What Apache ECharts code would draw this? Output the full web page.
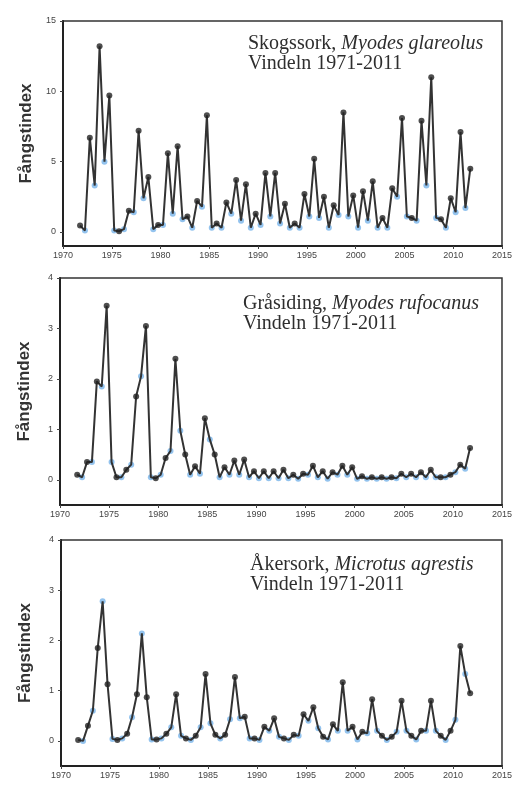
<!DOCTYPE html>
<html>
<head>
<meta charset="utf-8">
<script src="https://cdn.jsdelivr.net/npm/echarts@6/dist/echarts.min.js"></script>
<style>
  html, body { margin: 0; padding: 0; background: #fff; }
  #chart { width: 515px; height: 788px; }
</style>
</head>
<body>
<div id="chart"></div>
<script>
// years: autumn 1971-2011, spring 1972-2011
const firstYear = 1971;
const lastYear = 2011;

// Skogssork
const skogAutumn = [0.45, 6.7, 13.2, 9.7, 0.05, 1.5, 7.2, 3.9, 0.5, 5.6, 6.1, 1.1, 2.2, 8.3, 0.6, 2.1, 3.7, 3.4, 1.3, 4.2, 4.2,
  2.0, 0.6, 2.7, 5.2, 2.5, 1.9, 8.5, 2.6, 2.9, 3.6, 1.0, 3.1, 8.1, 1.0, 7.9, 11.0, 0.9, 2.4, 7.1, 4.5];
const skogSpring = [0.1, 3.3, 5.0, 0.1, 0.2, 1.4, 2.4, 0.2, 0.5, 1.3, 0.9, 0.3, 1.8, 0.3, 0.3, 1.3, 0.8, 0.3, 0.5, 1.1,
  0.6, 0.3, 0.3, 1.1, 1.0, 0.3, 1.2, 1.1, 0.3, 0.8, 0.3, 0.3, 2.5, 1.1, 0.8, 3.3, 1.0, 0.3, 1.4, 1.7];

// Gråsiding
const grasAutumn = [0.1, 0.35, 1.95, 3.45, 0.05, 0.2, 1.65, 3.05, 0.03, 0.43, 2.4, 0.5, 0.27, 1.22, 0.5, 0.25, 0.38, 0.4, 0.17, 0.17, 0.17,
  0.2, 0.1, 0.12, 0.28, 0.17, 0.15, 0.28, 0.25, 0.07, 0.05, 0.05, 0.05, 0.12, 0.12, 0.15, 0.2, 0.05, 0.1, 0.3, 0.63];
const grasSpring = [0.05, 0.35, 1.85, 0.35, 0.05, 0.3, 2.05, 0.05, 0.1, 0.57, 0.97, 0.1, 0.12, 0.8, 0.05, 0.1, 0.1, 0.05, 0.03, 0.03,
  0.03, 0.03, 0.02, 0.1, 0.05, 0.02, 0.1, 0.1, 0.02, 0.02, 0.02, 0.02, 0.03, 0.05, 0.05, 0.05, 0.05, 0.05, 0.15, 0.22];

// Åkersork
const akerAutumn = [0.02, 0.3, 1.85, 1.13, 0.02, 0.14, 0.93, 0.87, 0.03, 0.14, 0.93, 0.05, 0.1, 1.33, 0.12, 0.12, 1.27, 0.48, 0.05, 0.28, 0.45,
  0.05, 0.12, 0.53, 0.67, 0.08, 0.33, 1.17, 0.28, 0.18, 0.83, 0.1, 0.08, 0.8, 0.1, 0.2, 0.8, 0.1, 0.2, 1.89, 0.95];
const akerSpring = [0.0, 0.6, 2.78, 0.04, 0.05, 0.47, 2.14, 0.03, 0.05, 0.27, 0.1, 0.02, 0.27, 0.35, 0.05, 0.43, 0.45, 0.05, 0.02, 0.2,
  0.08, 0.02, 0.1, 0.4, 0.25, 0.03, 0.2, 0.2, 0.03, 0.15, 0.2, 0.02, 0.18, 0.2, 0.03, 0.2, 0.2, 0.02, 0.42, 1.33];

const panels = [
  { name: "Skogssork, ", latin: "Myodes glareolus", autumn: skogAutumn, spring: skogSpring,
    grid: { left: 63, top: 21, width: 440, height: 225 }, min: -1, max: 15, ticks: [0, 5, 10, 15], titleTop: 29, titleLeft: 243 },
  { name: "Gråsiding, ", latin: "Myodes rufocanus", autumn: grasAutumn, spring: grasSpring,
    grid: { left: 60, top: 278, width: 443, height: 227 }, min: -0.5, max: 4, ticks: [0, 1, 2, 3, 4], titleTop: 289, titleLeft: 238 },
  { name: "Åkersork, ", latin: "Microtus agrestis", autumn: akerAutumn, spring: akerSpring,
    grid: { left: 61, top: 540, width: 442, height: 226 }, min: -0.5, max: 4, ticks: [0, 1, 2, 3, 4], titleTop: 550, titleLeft: 245 }
];

function springPoints(p) {
  return p.spring.map((v, i) => [firstYear + 1 + i + 0.25, v]);
}
function autumnPoints(p) {
  return p.autumn.map((v, i) => [firstYear + i + 0.75, v]);
}
function allPoints(p) {
  const out = [];
  for (let y = firstYear; y <= lastYear; y++) {
    if (y > firstYear) out.push([y + 0.25, p.spring[y - firstYear - 1]]);
    out.push([y + 0.75, p.autumn[y - firstYear]]);
  }
  return out;
}

const option = {
  backgroundColor: "#fff",
  animation: false,
  title: panels.map(p => ({
    left: p.titleLeft,
    top: p.titleTop,
    text: "{a|" + p.name + "}{b|" + p.latin + "}\n{a|Vindeln 1971-2011}",
    textStyle: {
      fontWeight: "normal",
      rich: {
        a: { fontFamily: "Liberation Serif", fontWeight: "normal", fontSize: 20, color: "#2e2e2e", lineHeight: 20 },
        b: { fontFamily: "Liberation Serif", fontWeight: "normal", fontStyle: "italic", fontSize: 20, color: "#2e2e2e", lineHeight: 20 }
      }
    }
  })),
  grid: panels.map(p => Object.assign({ show: true, borderColor: "#333", borderWidth: 1.5, backgroundColor: "#fff" }, p.grid)),
  xAxis: panels.map((p, i) => ({
    type: "value",
    gridIndex: i,
    min: 1970,
    max: 2015,
    interval: 5,
    splitLine: { show: false },
    axisLine: { show: true, onZero: false, lineStyle: { color: "#222", width: 2 } },
    axisTick: { show: true, length: 3, lineStyle: { color: "#444" } },
    axisLabel: { fontSize: 9, color: "#444", margin: 5, formatter: v => String(v) }
  })),
  yAxis: panels.map((p, i) => ({
    type: "value",
    gridIndex: i,
    min: p.min,
    max: p.max,
    name: "Fångstindex",
    nameLocation: "middle",
    nameGap: 27,
    nameTextStyle: { fontFamily: "Liberation Sans", fontWeight: "bold", fontSize: 17, color: "#333" },
    splitLine: { show: false },
    axisLine: { show: true, onZero: false, lineStyle: { color: "#222", width: 2 } },
    axisTick: { show: true, length: 3, customValues: p.ticks, lineStyle: { color: "#444" } },
    axisLabel: { fontSize: 9, color: "#444", margin: 7, customValues: p.ticks }
  })),
  series: []
};

panels.forEach((p, i) => {
  option.series.push({
    type: "line",
    xAxisIndex: i,
    yAxisIndex: i,
    data: allPoints(p),
    showSymbol: false,
    lineStyle: { color: "#333", width: 2 },
    z: 2
  });
  option.series.push({
    type: "scatter",
    xAxisIndex: i,
    yAxisIndex: i,
    data: springPoints(p),
    symbolSize: 6,
    itemStyle: { color: "#78b4ea" },
    z: 1
  });
  option.series.push({
    type: "scatter",
    xAxisIndex: i,
    yAxisIndex: i,
    data: autumnPoints(p),
    symbolSize: 6,
    itemStyle: { color: "#222" },
    z: 3
  });
});

const chart = echarts.init(document.getElementById("chart"));
chart.setOption(option);
</script>
</body>
</html>
